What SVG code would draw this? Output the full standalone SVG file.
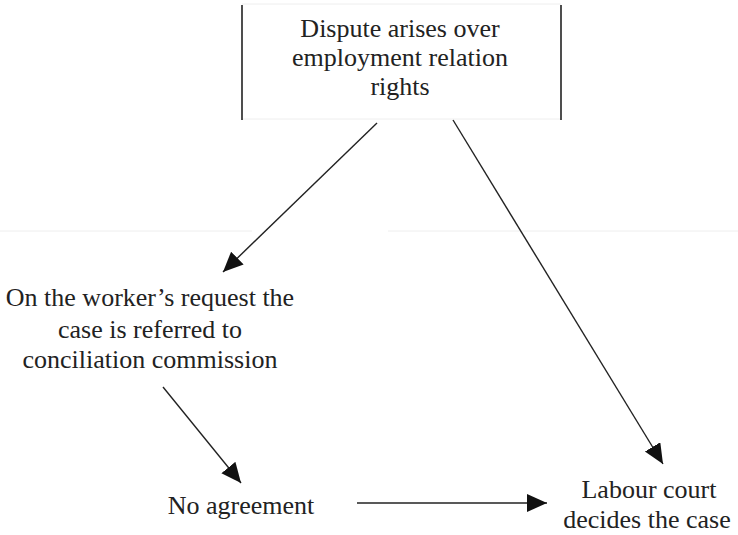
<svg xmlns="http://www.w3.org/2000/svg" width="738" height="535" viewBox="0 0 738 535">
<style>
text{font-family:"Liberation Serif","Times New Roman",serif;font-size:26px;fill:#222;text-anchor:middle}
.c{stroke:#222;stroke-width:1.4;fill:none}
.faint{stroke:#eeeeee;stroke-width:1;fill:none}
.side{stroke:#222;stroke-width:1.6}
</style>
<defs>
<marker id="ah" markerUnits="userSpaceOnUse" markerWidth="22" markerHeight="20" refX="20" refY="9" orient="auto" viewBox="0 0 22 20">
<path d="M0,0 L20,9 L0,18 Z" fill="#111"/>
</marker>
</defs>
<rect width="738" height="535" fill="#fff"/>
<g id="faint-lines">
<line class="faint" x1="0" y1="231" x2="252" y2="231"/>
<line class="faint" x1="388" y1="231" x2="738" y2="231"/>
</g>
<g id="dispute">
<line class="faint" x1="242" y1="4" x2="561" y2="4"/>
<line class="faint" x1="242" y1="119" x2="561" y2="119"/>
<line class="side" x1="242" y1="5" x2="242" y2="120"/>
<line class="side" x1="561" y1="5" x2="561" y2="120"/>
<text x="400" y="37">Dispute arises over</text>
<text x="400" y="66">employment relation</text>
<text x="400" y="95">rights</text>
</g>
<g id="conciliation">
<text x="150" y="306">On the worker’s request the</text>
<text x="150" y="338">case is referred to</text>
<text x="150" y="368">conciliation commission</text>
</g>
<g id="noagreement">
<text x="241" y="514">No agreement</text>
</g>
<g id="labourcourt">
<text x="649" y="498">Labour court</text>
<text x="647" y="528">decides the case</text>
</g>
<g id="connectors">
<line class="c" x1="377" y1="123" x2="223" y2="272" marker-end="url(#ah)"/>
<line class="c" x1="453" y1="120" x2="663" y2="464" marker-end="url(#ah)"/>
<line class="c" x1="163" y1="387" x2="241" y2="483" marker-end="url(#ah)"/>
<line class="c" x1="357" y1="503" x2="547" y2="503" marker-end="url(#ah)"/>
</g>
</svg>
